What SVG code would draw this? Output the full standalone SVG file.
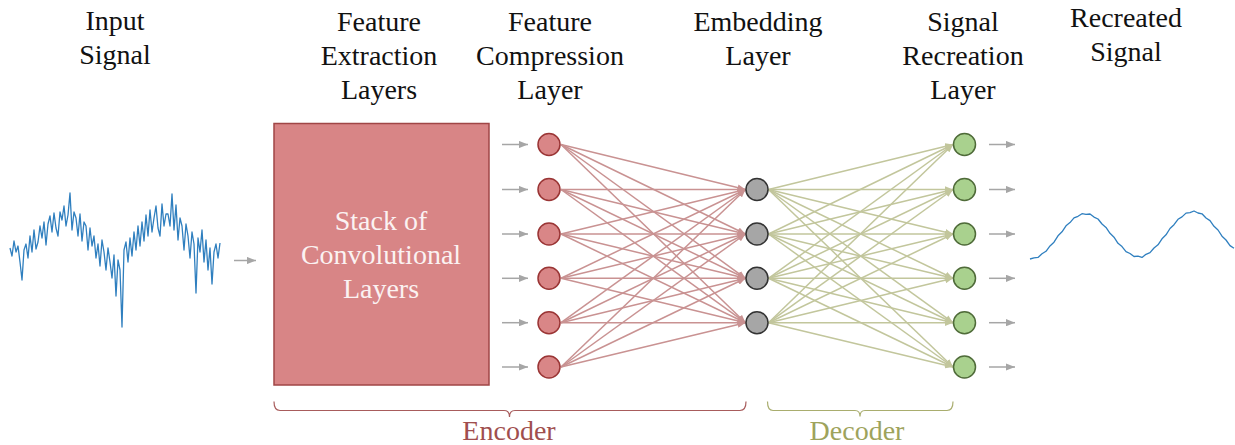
<svg xmlns="http://www.w3.org/2000/svg" width="1235" height="445" viewBox="0 0 1235 445">
<style>
text{font-family:"Liberation Serif",serif;font-size:28px;text-anchor:middle}
.t{fill:#111}
.bt{fill:#fbf2f2}
.enc{fill:#a04e4e}
.dec{fill:#9ea35c}
.rn{fill:#d98687;stroke:#9a3535;stroke-width:1.5}
.gn{fill:#a6a6a6;stroke:#333;stroke-width:1.5}
.vn{fill:#a9d18e;stroke:#4f6b39;stroke-width:1.5}
.rl{stroke:#c99292;stroke-width:1.5;fill:none;marker-end:url(#mr)}
.vl{stroke:#c2c69c;stroke-width:1.5;fill:none;marker-end:url(#mv)}
.al{stroke:#a6a6a6;stroke-width:1.5;fill:none;marker-end:url(#ma)}
.sig{fill:none;stroke:#2f7fbf;stroke-width:1.3;stroke-linejoin:round}
</style>
<defs>
<marker id="mr" viewBox="0 0 10 8" refX="10" refY="4" markerWidth="8" markerHeight="6.5" markerUnits="userSpaceOnUse" orient="auto"><path d="M0,0L10,4L0,8z" fill="#c99292"/></marker>
<marker id="mv" viewBox="0 0 10 8" refX="10" refY="4" markerWidth="8" markerHeight="6.5" markerUnits="userSpaceOnUse" orient="auto"><path d="M0,0L10,4L0,8z" fill="#c2c69c"/></marker>
<marker id="ma" viewBox="0 0 10 8" refX="10" refY="4" markerWidth="9" markerHeight="7.5" markerUnits="userSpaceOnUse" orient="auto"><path d="M0,0L10,4L0,8z" fill="#a6a6a6"/></marker>
</defs>
<rect width="1235" height="445" fill="#fff"/>

<g id="titles" font-family="Liberation Serif, serif">
<text class="t" font-family="Liberation Serif, serif" x="115" y="30">Input</text><text class="t" font-family="Liberation Serif, serif" x="115" y="64">Signal</text>
<text class="t" font-family="Liberation Serif, serif" x="379" y="31">Feature</text><text class="t" font-family="Liberation Serif, serif" x="379" y="65">Extraction</text><text class="t" font-family="Liberation Serif, serif" x="379" y="99">Layers</text>
<text class="t" font-family="Liberation Serif, serif" x="550" y="31">Feature</text><text class="t" font-family="Liberation Serif, serif" x="550" y="65">Compression</text><text class="t" font-family="Liberation Serif, serif" x="550" y="99">Layer</text>
<text class="t" font-family="Liberation Serif, serif" x="758" y="31">Embedding</text><text class="t" font-family="Liberation Serif, serif" x="758" y="65">Layer</text>
<text class="t" font-family="Liberation Serif, serif" x="963" y="31">Signal</text><text class="t" font-family="Liberation Serif, serif" x="963" y="65">Recreation</text><text class="t" font-family="Liberation Serif, serif" x="963" y="99">Layer</text>
<text class="t" font-family="Liberation Serif, serif" x="1126" y="27">Recreated</text><text class="t" font-family="Liberation Serif, serif" x="1126" y="61">Signal</text>
</g>

<g id="input-signal">
<polyline class="sig" points="10,248 12,256 14,241 16,252 18,246 20,262 22,280 24,250 26,244 28,258 30,236 32,252 34,230 36,249 38,242 40,226 42,238 44,222 46,245 48,224 50,216 52,232 54,213 56,228 58,236 60,212 62,220 64,206 66,226 68,215 70,193 72,230 74,212 76,218 78,236 80,214 82,241 84,222 86,226 88,250 90,228 92,246 94,236 96,258 98,244 100,266 102,240 104,252 106,270 108,248 110,262 112,278 114,255 116,296 118,260 120,270 122,327 124,250 126,242 128,262 130,238 132,256 134,232 136,250 138,226 140,246 142,222 144,241 146,215 148,236 150,210 152,232 154,218 156,206 158,228 160,236 162,204 164,226 166,214 168,214 170,226 172,194 174,230 176,205 178,240 180,218 182,226 184,250 186,224 188,236 190,258 192,232 194,244 196,293 198,238 200,252 202,230 204,262 206,240 208,270 210,248 212,284 214,252 216,244 218,258 220,243"/>
</g>

<g id="recreated-signal">
<polyline class="sig" points="1030,259.0 1034,257.9 1038,257.4 1042,253.8 1046,251.3 1050,245.9 1054,242.2 1058,235.8 1062,231.8 1066,225.8 1070,222.6 1074,217.9 1078,216.3 1082,213.7 1086,214.4 1090,214.0 1094,217.1 1098,219.0 1102,224.0 1106,227.4 1110,233.3 1114,237.2 1118,243.3 1122,246.6 1126,251.6 1130,253.5 1134,256.5 1138,256.2 1142,257.4 1146,254.3 1150,252.7 1154,248.0 1158,244.8 1162,238.8 1166,234.8 1170,228.5 1174,224.7 1178,219.3 1182,216.9 1186,213.1 1190,212.6 1194,211.0 1198,213.0 1202,213.8 1206,218.0 1210,220.6 1214,226.3 1218,230.0 1222,236.2 1226,240.0 1230,245.6 1234,248.3"/>
</g>

<g id="conv-stack">
<rect x="274" y="123.5" width="215" height="261.5" fill="#d88586" stroke="#a04646" stroke-width="1.5"/>
<text class="bt" font-family="Liberation Serif, serif" x="381" y="230">Stack of</text>
<text class="bt" font-family="Liberation Serif, serif" x="381" y="264">Convolutional</text>
<text class="bt" font-family="Liberation Serif, serif" x="381" y="298">Layers</text>
</g>

<g id="connectors">
<line class="al" x1="234" y1="260.5" x2="256" y2="260.5"/>
<line class="al" x1="502" y1="144.5" x2="528" y2="144.5"/>
<line class="al" x1="502" y1="189.5" x2="528" y2="189.5"/>
<line class="al" x1="502" y1="234" x2="528" y2="234"/>
<line class="al" x1="502" y1="278.3" x2="528" y2="278.3"/>
<line class="al" x1="502" y1="322.7" x2="528" y2="322.7"/>
<line class="al" x1="502" y1="367" x2="528" y2="367"/>
<line class="al" x1="989" y1="144.5" x2="1015" y2="144.5"/>
<line class="al" x1="989" y1="189.5" x2="1015" y2="189.5"/>
<line class="al" x1="989" y1="234" x2="1015" y2="234"/>
<line class="al" x1="989" y1="278.3" x2="1015" y2="278.3"/>
<line class="al" x1="989" y1="322.7" x2="1015" y2="322.7"/>
<line class="al" x1="989" y1="367" x2="1015" y2="367"/>

<line class="rl" x1="561" y1="144.5" x2="745.5" y2="189.5"/>
<line class="rl" x1="561" y1="144.5" x2="745.5" y2="234"/>
<line class="rl" x1="561" y1="144.5" x2="745.5" y2="278.3"/>
<line class="rl" x1="561" y1="144.5" x2="745.5" y2="322.7"/>
<line class="rl" x1="561" y1="189.5" x2="745.5" y2="189.5"/>
<line class="rl" x1="561" y1="189.5" x2="745.5" y2="234"/>
<line class="rl" x1="561" y1="189.5" x2="745.5" y2="278.3"/>
<line class="rl" x1="561" y1="189.5" x2="745.5" y2="322.7"/>
<line class="rl" x1="561" y1="234" x2="745.5" y2="189.5"/>
<line class="rl" x1="561" y1="234" x2="745.5" y2="234"/>
<line class="rl" x1="561" y1="234" x2="745.5" y2="278.3"/>
<line class="rl" x1="561" y1="234" x2="745.5" y2="322.7"/>
<line class="rl" x1="561" y1="278.3" x2="745.5" y2="189.5"/>
<line class="rl" x1="561" y1="278.3" x2="745.5" y2="234"/>
<line class="rl" x1="561" y1="278.3" x2="745.5" y2="278.3"/>
<line class="rl" x1="561" y1="278.3" x2="745.5" y2="322.7"/>
<line class="rl" x1="561" y1="322.7" x2="745.5" y2="189.5"/>
<line class="rl" x1="561" y1="322.7" x2="745.5" y2="234"/>
<line class="rl" x1="561" y1="322.7" x2="745.5" y2="278.3"/>
<line class="rl" x1="561" y1="322.7" x2="745.5" y2="322.7"/>
<line class="rl" x1="561" y1="367" x2="745.5" y2="189.5"/>
<line class="rl" x1="561" y1="367" x2="745.5" y2="234"/>
<line class="rl" x1="561" y1="367" x2="745.5" y2="278.3"/>
<line class="rl" x1="561" y1="367" x2="745.5" y2="322.7"/>

<line class="vl" x1="768.5" y1="189.5" x2="953" y2="144.5"/>
<line class="vl" x1="768.5" y1="189.5" x2="953" y2="189.5"/>
<line class="vl" x1="768.5" y1="189.5" x2="953" y2="234"/>
<line class="vl" x1="768.5" y1="189.5" x2="953" y2="278.3"/>
<line class="vl" x1="768.5" y1="189.5" x2="953" y2="322.7"/>
<line class="vl" x1="768.5" y1="189.5" x2="953" y2="367"/>
<line class="vl" x1="768.5" y1="234" x2="953" y2="144.5"/>
<line class="vl" x1="768.5" y1="234" x2="953" y2="189.5"/>
<line class="vl" x1="768.5" y1="234" x2="953" y2="234"/>
<line class="vl" x1="768.5" y1="234" x2="953" y2="278.3"/>
<line class="vl" x1="768.5" y1="234" x2="953" y2="322.7"/>
<line class="vl" x1="768.5" y1="234" x2="953" y2="367"/>
<line class="vl" x1="768.5" y1="278.3" x2="953" y2="144.5"/>
<line class="vl" x1="768.5" y1="278.3" x2="953" y2="189.5"/>
<line class="vl" x1="768.5" y1="278.3" x2="953" y2="234"/>
<line class="vl" x1="768.5" y1="278.3" x2="953" y2="278.3"/>
<line class="vl" x1="768.5" y1="278.3" x2="953" y2="322.7"/>
<line class="vl" x1="768.5" y1="278.3" x2="953" y2="367"/>
<line class="vl" x1="768.5" y1="322.7" x2="953" y2="144.5"/>
<line class="vl" x1="768.5" y1="322.7" x2="953" y2="189.5"/>
<line class="vl" x1="768.5" y1="322.7" x2="953" y2="234"/>
<line class="vl" x1="768.5" y1="322.7" x2="953" y2="278.3"/>
<line class="vl" x1="768.5" y1="322.7" x2="953" y2="322.7"/>
<line class="vl" x1="768.5" y1="322.7" x2="953" y2="367"/>
</g>

<g id="compression-layer">
<circle class="rn" cx="549" cy="144.5" r="11"/>
<circle class="rn" cx="549" cy="189.5" r="11"/>
<circle class="rn" cx="549" cy="234" r="11"/>
<circle class="rn" cx="549" cy="278.3" r="11"/>
<circle class="rn" cx="549" cy="322.7" r="11"/>
<circle class="rn" cx="549" cy="367" r="11"/>
</g>
<g id="embedding-layer">
<circle class="gn" cx="757" cy="189.5" r="11"/>
<circle class="gn" cx="757" cy="234" r="11"/>
<circle class="gn" cx="757" cy="278.3" r="11"/>
<circle class="gn" cx="757" cy="322.7" r="11"/>
</g>
<g id="recreation-layer">
<circle class="vn" cx="964.5" cy="144.5" r="11"/>
<circle class="vn" cx="964.5" cy="189.5" r="11"/>
<circle class="vn" cx="964.5" cy="234" r="11"/>
<circle class="vn" cx="964.5" cy="278.3" r="11"/>
<circle class="vn" cx="964.5" cy="322.7" r="11"/>
<circle class="vn" cx="964.5" cy="367" r="11"/>
</g>

<g id="encoder">
<path d="M274,401.5 Q274,410.5 280,410.5 L504,410.5 Q509.5,410.5 509.5,417 Q509.5,410.5 515,410.5 L740,410.5 Q746,410.5 746,401.5" fill="none" stroke="#a85c5c" stroke-width="1.2"/>
<text class="enc" font-family="Liberation Serif, serif" x="509" y="440">Encoder</text>
</g>
<g id="decoder">
<path d="M767.5,401.5 Q767.5,410.5 773,410.5 L855,410.5 Q860,410.5 860,416.5 Q860,410.5 865,410.5 L947,410.5 Q953,410.5 953,401.5" fill="none" stroke="#a9ad6e" stroke-width="1.2"/>
<text class="dec" font-family="Liberation Serif, serif" x="857" y="440">Decoder</text>
</g>
</svg>
